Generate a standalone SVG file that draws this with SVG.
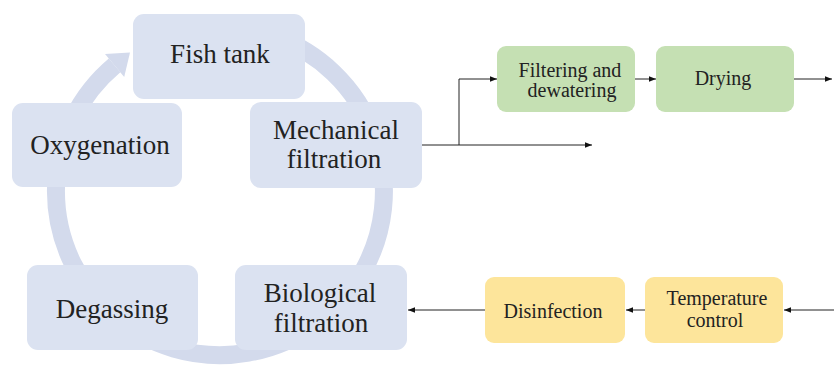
<svg xmlns="http://www.w3.org/2000/svg" width="834" height="365" viewBox="0 0 834 365">
<style>
.ring{fill:none;stroke:#d3daec;stroke-width:18}
.blue{fill:#dbe2f1}
.green{fill:#c5e0b3}
.yellow{fill:#fde59b}
.conn{fill:none;stroke:#222;stroke-width:1}
svg text{font-family:"Liberation Serif",serif !important}
</style>
<defs>
<marker id="ah" viewBox="0 0 10 10" refX="10" refY="5" markerWidth="7" markerHeight="7" markerUnits="userSpaceOnUse" orient="auto">
<path d="M0,1 L10,5 L0,9 Z" fill="#111"/>
</marker>
</defs>
<g id="ring">
<path class="ring" d="M114.6,65.4 A164,164 0 1 0 276,37"/>
<polygon points="130,52.5 124.2,76.9 105,53.9" fill="#d3daec"/>
</g>
<g id="connectors">
<path class="conn" d="M422,145 H592" marker-end="url(#ah)"/>
<path class="conn" d="M459,145 V79 H497" marker-end="url(#ah)"/>
<path class="conn" d="M635,79 H656" marker-end="url(#ah)"/>
<path class="conn" d="M794,79 H832" marker-end="url(#ah)"/>
<path class="conn" d="M834,310 H784" marker-end="url(#ah)"/>
<path class="conn" d="M645,310 H626" marker-end="url(#ah)"/>
<path class="conn" d="M485,310 H408" marker-end="url(#ah)"/>
</g>
<g id="fish-tank">
<rect class="blue" x="133" y="14" width="172" height="85" rx="11"/>
<text x="220" y="63" font-size="27" font-family="Liberation Serif" style="font-family:'Liberation Serif',serif !important" fill="#222" text-anchor="middle">Fish tank</text>
</g>
<g id="oxygenation">
<rect class="blue" x="12" y="103" width="170" height="84" rx="11"/>
<text x="100" y="154" font-size="27" font-family="Liberation Serif" style="font-family:'Liberation Serif',serif !important" fill="#222" text-anchor="middle">Oxygenation</text>
</g>
<g id="mechanical-filtration">
<rect class="blue" x="250" y="102" width="172" height="86" rx="11"/>
<text x="336" y="139" font-size="27" font-family="Liberation Serif" style="font-family:'Liberation Serif',serif !important" fill="#222" text-anchor="middle">Mechanical</text>
<text x="334" y="168" font-size="27" font-family="Liberation Serif" style="font-family:'Liberation Serif',serif !important" fill="#222" text-anchor="middle">filtration</text>
</g>
<g id="degassing">
<rect class="blue" x="27" y="265" width="171" height="85" rx="11"/>
<text x="112" y="318" font-size="27" font-family="Liberation Serif" style="font-family:'Liberation Serif',serif !important" fill="#222" text-anchor="middle">Degassing</text>
</g>
<g id="biological-filtration">
<rect class="blue" x="235" y="265" width="172" height="85" rx="11"/>
<text x="320" y="302" font-size="27" font-family="Liberation Serif" style="font-family:'Liberation Serif',serif !important" fill="#222" text-anchor="middle">Biological</text>
<text x="321" y="332" font-size="27" font-family="Liberation Serif" style="font-family:'Liberation Serif',serif !important" fill="#222" text-anchor="middle">filtration</text>
</g>
<g id="filtering-dewatering">
<rect class="green" x="497" y="46" width="138" height="66" rx="9"/>
<text x="570" y="77" font-size="20" font-family="Liberation Serif" style="font-family:'Liberation Serif',serif !important" fill="#222" text-anchor="middle">Filtering and</text>
<text x="572" y="97" font-size="20" font-family="Liberation Serif" style="font-family:'Liberation Serif',serif !important" fill="#222" text-anchor="middle">dewatering</text>
</g>
<g id="drying">
<rect class="green" x="656" y="46" width="138" height="66" rx="9"/>
<text x="723" y="85" font-size="20" font-family="Liberation Serif" style="font-family:'Liberation Serif',serif !important" fill="#222" text-anchor="middle">Drying</text>
</g>
<g id="disinfection">
<rect class="yellow" x="485" y="277" width="140" height="66" rx="9"/>
<text x="553" y="318" font-size="20" font-family="Liberation Serif" style="font-family:'Liberation Serif',serif !important" fill="#222" text-anchor="middle">Disinfection</text>
</g>
<g id="temperature-control">
<rect class="yellow" x="645" y="277" width="138" height="66" rx="9"/>
<text x="717" y="305" font-size="20" font-family="Liberation Serif" style="font-family:'Liberation Serif',serif !important" fill="#222" text-anchor="middle">Temperature</text>
<text x="715" y="327" font-size="20" font-family="Liberation Serif" style="font-family:'Liberation Serif',serif !important" fill="#222" text-anchor="middle">control</text>
</g>
</svg>
